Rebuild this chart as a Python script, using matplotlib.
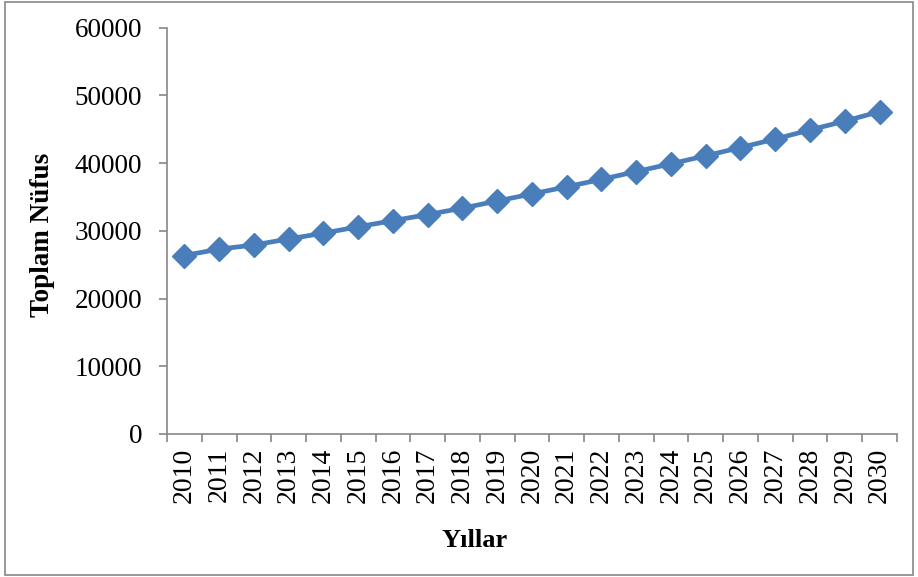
import matplotlib
matplotlib.use("Agg")
import numpy as np
from matplotlib import pyplot as plt
from matplotlib.patches import Rectangle

plt.rcParams['font.family'] = ['Liberation Serif', 'DejaVu Serif']

years = [str(y) for y in range(2010, 2031)]
population = [26350, 27300, 27900, 28800, 29650, 30600, 31500, 32400, 33350, 34400,
              35450, 36500, 37600, 38750, 39900, 41080, 42300, 43550, 44900, 46200, 47600]
y_ticks = [0, 10000, 20000, 30000, 40000, 50000, 60000]

fig = plt.figure(figsize=(9.18, 5.77), dpi=100)
ax = fig.add_axes([0.182, 0.248, 0.795, 0.704])

x = np.arange(len(years))
ax.plot(x, population, color='#4A7EBB', lw=3.4, marker='D', ms=12,
        markerfacecolor='#4A7EBB', markeredgecolor='#4A7EBB', solid_joinstyle='round')

ax.set_xlim(-0.5, len(years) - 0.5)
ax.set_ylim(0, 60000)
ax.set_yticks(y_ticks)
ax.set_yticklabels([str(v) for v in y_ticks], fontsize=19.5)
ax.set_xticks(x)
ax.set_xticklabels(years, rotation=90, fontsize=20)
ax.set_xticks(np.arange(-0.5, len(years)), minor=True)
ax.tick_params(axis='x', which='major', length=0, pad=10)
ax.tick_params(axis='x', which='minor', length=6, color='#868686', width=1.2)
ax.tick_params(axis='y', length=6, color='#868686', width=1.2, pad=12)

for side in ['top', 'right']:
    ax.spines[side].set_visible(False)
for side in ['left', 'bottom']:
    ax.spines[side].set_color('#868686')
    ax.spines[side].set_linewidth(1.2)

ax.set_ylabel('Toplam Nüfus', fontsize=19.5, fontweight='bold')
ax.set_xlabel('Yıllar', fontsize=19, fontweight='bold')
ax.yaxis.set_label_coords(-0.154, 0.49)
ax.xaxis.set_label_coords(0.422, -0.235)

# outer chart border
fig.patches.append(Rectangle((0.005, 0.004), 0.99, 0.992, transform=fig.transFigure,
                             fill=False, edgecolor='#868686', lw=1.2))

fig.savefig('out.png', dpi=100)
